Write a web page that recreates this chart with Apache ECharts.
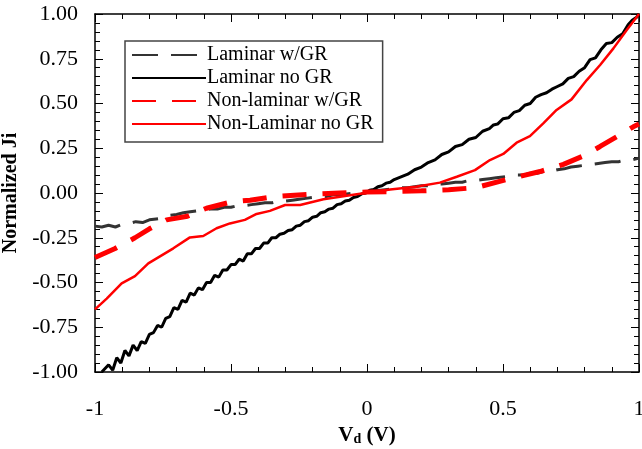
<!DOCTYPE html>
<html>
<head>
<meta charset="utf-8">
<script src="https://cdn.jsdelivr.net/npm/echarts@6/dist/echarts.min.js"></script>
<style>
  html, body { margin: 0; padding: 0; background: #fff; }
  #chart { width: 642px; height: 449px; }
</style>
</head>
<body>
<div id="chart"></div>
<script>
// series names
var names = ['Laminar w/GR', 'Laminar no GR', 'Non-laminar w/GR', 'Non-Laminar no GR'];

// [Vd, normalized J]
var laminarWithGR = [
  [-1,-0.185],[-0.975,-0.19],[-0.95,-0.18],[-0.925,-0.19],[-0.9,-0.175],[-0.875,-0.17],[-0.85,-0.16],
  [-0.825,-0.165],[-0.8,-0.15],[-0.775,-0.145],[-0.75,-0.14],[-0.725,-0.125],[-0.7,-0.12],[-0.675,-0.11],
  [-0.65,-0.105],[-0.625,-0.1],[-0.6,-0.095],[-0.575,-0.09],[-0.55,-0.09],[-0.525,-0.08],[-0.5,-0.08],
  [-0.475,-0.07],[-0.45,-0.07],[-0.425,-0.065],[-0.4,-0.06],[-0.375,-0.055],[-0.35,-0.055],[-0.325,-0.045],
  [-0.3,-0.045],[-0.275,-0.04],[-0.25,-0.035],[-0.225,-0.03],[-0.2,-0.025],[-0.175,-0.02],[-0.15,-0.02],
  [-0.125,-0.01],[-0.1,-0.01],[-0.075,-0.005],[-0.05,0.0],[-0.025,0.005],[0,0.005],[0.025,0.015],[0.05,0.015],
  [0.075,0.02],[0.1,0.025],[0.125,0.03],[0.15,0.03],[0.175,0.035],[0.2,0.04],[0.225,0.04],[0.25,0.05],
  [0.275,0.05],[0.3,0.055],[0.325,0.06],[0.35,0.06],[0.375,0.07],[0.4,0.07],[0.425,0.075],[0.45,0.08],
  [0.475,0.085],[0.5,0.09],[0.525,0.095],[0.55,0.1],[0.575,0.1],[0.6,0.11],[0.625,0.11],[0.65,0.12],
  [0.675,0.12],[0.7,0.13],[0.725,0.135],[0.75,0.145],[0.775,0.15],[0.8,0.155],[0.825,0.16],[0.85,0.165],
  [0.875,0.17],[0.9,0.175],[0.925,0.175],[0.95,0.185],[0.975,0.185],[1,0.195]
];

var laminarNoGR = [
  [-0.975,-1.00],[-0.95,-0.96],[-0.935,-0.99],[-0.92,-0.92],[-0.905,-0.95],[-0.89,-0.88],[-0.875,-0.91],
  [-0.86,-0.85],[-0.845,-0.88],[-0.83,-0.83],[-0.815,-0.84],[-0.8,-0.79],[-0.785,-0.78],[-0.77,-0.74],
  [-0.755,-0.75],[-0.74,-0.70],[-0.725,-0.69],[-0.71,-0.64],[-0.695,-0.65],[-0.68,-0.60],[-0.665,-0.61],
  [-0.65,-0.56],[-0.635,-0.57],[-0.62,-0.53],[-0.605,-0.54],[-0.59,-0.50],[-0.575,-0.50],[-0.56,-0.46],
  [-0.545,-0.47],[-0.53,-0.43],[-0.515,-0.43],[-0.5,-0.40],[-0.485,-0.40],[-0.47,-0.37],[-0.455,-0.38],
  [-0.44,-0.34],[-0.425,-0.34],[-0.41,-0.31],[-0.395,-0.31],[-0.38,-0.28],[-0.365,-0.28],[-0.35,-0.25],
  [-0.335,-0.25],[-0.32,-0.23],[-0.305,-0.225],[-0.29,-0.21],[-0.275,-0.205],[-0.26,-0.185],[-0.245,-0.18],
  [-0.23,-0.16],[-0.215,-0.155],[-0.2,-0.135],[-0.185,-0.13],[-0.17,-0.11],[-0.155,-0.105],[-0.14,-0.09],
  [-0.125,-0.085],[-0.11,-0.065],[-0.095,-0.06],[-0.08,-0.045],[-0.065,-0.04],[-0.05,-0.025],[-0.035,-0.02],
  [-0.02,-0.005],[-0.005,0.0],[0.01,0.015],[0.025,0.02],[0.04,0.035],[0.055,0.04],[0.07,0.055],[0.085,0.06],
  [0.1,0.075],[0.125,0.09],[0.15,0.105],[0.175,0.13],[0.2,0.145],[0.225,0.17],[0.25,0.185],[0.275,0.215],
  [0.3,0.23],[0.325,0.26],[0.35,0.27],[0.375,0.30],[0.4,0.31],[0.425,0.345],[0.45,0.36],[0.465,0.38],
  [0.48,0.385],[0.5,0.415],[0.52,0.42],[0.54,0.45],[0.56,0.46],[0.58,0.49],[0.6,0.50],[0.62,0.535],
  [0.64,0.55],[0.66,0.56],[0.68,0.58],[0.7,0.595],[0.72,0.61],[0.74,0.64],[0.76,0.65],[0.78,0.68],
  [0.8,0.70],[0.82,0.745],[0.84,0.755],[0.86,0.80],[0.88,0.835],[0.9,0.84],[0.92,0.87],[0.94,0.89],
  [0.96,0.94],[0.975,0.965],[0.99,0.98],[1.0,1.0]
];

var nonLaminarWithGR = [
  [-1,-0.36],[-0.926,-0.31],[-0.853,-0.25],[-0.8,-0.2],[-0.737,-0.15],[-0.66,-0.13],[-0.59,-0.085],
  [-0.5,-0.05],[-0.43,-0.04],[-0.34,-0.02],[-0.22,-0.008],[-0.1,0.0],[0.0,0.005],[0.1,0.008],[0.2,0.012],
  [0.3,0.018],[0.4,0.03],[0.513,0.075],[0.636,0.12],[0.722,0.16],[0.8,0.21],[0.857,0.26],[0.918,0.314],
  [0.979,0.37],[1,0.385]
];

var nonLaminarNoGR = [
  [-1,-0.65],[-0.957,-0.59],[-0.902,-0.505],[-0.853,-0.464],[-0.804,-0.393],[-0.712,-0.309],[-0.651,-0.248],
  [-0.602,-0.24],[-0.553,-0.197],[-0.504,-0.17],[-0.449,-0.15],[-0.406,-0.117],[-0.357,-0.10],[-0.301,-0.067],
  [-0.246,-0.067],[-0.16,-0.035],[-0.038,-0.007],[0.085,0.02],[0.18,0.035],[0.268,0.058],[0.33,0.091],
  [0.397,0.128],[0.452,0.184],[0.501,0.218],[0.55,0.281],[0.599,0.318],[0.648,0.389],[0.697,0.464],
  [0.752,0.523],[0.808,0.631],[0.857,0.715],[0.906,0.808],[0.955,0.91],[1,1.0]
];

var serif = 'Liberation Serif';

var myChart = echarts.init(document.getElementById('chart'));

// common axis look: ticks inside, minor ticks
function xAxisBase(pos, showLabel) {
  return {
    type: 'value', position: pos, min: -1, max: 1, interval: 0.5,
    axisLine: { show: true, onZero: false, lineStyle: { color: '#000', width: 1.5 } },
    axisTick: { show: true, inside: true, length: 8, lineStyle: { color: '#000', width: 1 } },
    minorTick: { show: true, splitNumber: 5, length: 5, lineStyle: { color: '#000', width: 1 } },
    splitLine: { show: false },
    axisLabel: { show: showLabel, margin: 26, color: '#000', fontFamily: serif, fontSize: 22 }
  };
}
function yAxisBase(pos, showLabel) {
  return {
    type: 'value', position: pos, min: -1, max: 1, interval: 0.25,
    axisLine: { show: true, onZero: false, lineStyle: { color: '#000', width: 1.5 } },
    axisTick: { show: true, inside: true, length: 8, lineStyle: { color: '#000', width: 1 } },
    minorTick: { show: true, splitNumber: 5, length: 5, lineStyle: { color: '#000', width: 1 } },
    splitLine: { show: false },
    axisLabel: {
      show: showLabel, margin: 17, color: '#000', fontFamily: serif, fontSize: 22,
      formatter: function (v) { return v.toFixed(2); }
    }
  };
}

var xBottom = xAxisBase('bottom', true);
xBottom.name = '{b|V}{s|d}{b| (V)}';
xBottom.nameLocation = 'middle';
xBottom.nameGap = 50;
xBottom.nameTextStyle = {
  rich: {
    b: { fontFamily: serif, fontSize: 21, fontWeight: 'bold', color: '#000' },
    s: { fontFamily: serif, fontSize: 14, fontWeight: 'bold', color: '#000', padding: [8, 0, 0, 0] }
  }
};
var xTop = xAxisBase('top', false);

var yLeft = yAxisBase('left', true);
yLeft.name = 'Normalized Ji';
yLeft.nameLocation = 'middle';
yLeft.nameGap = 67;
yLeft.nameTextStyle = { fontFamily: serif, fontSize: 20, fontWeight: 'bold', color: '#000' };
var yRight = yAxisBase('right', false);

var option = {
  animation: false,
  backgroundColor: '#fff',
  grid: { left: 95, right: 3, top: 14, bottom: 77, outerBoundsMode: 'none', containLabel: false },
  legend: {
    data: names,
    orient: 'vertical',
    left: 125,
    top: 41,
    padding: [4, 9, 8, 6],
    itemWidth: 74,
    itemHeight: 14,
    itemGap: 3,
    borderColor: '#444',
    borderWidth: 1.5,
    itemStyle: { opacity: 0 },
    textStyle: { fontFamily: serif, fontSize: 20, lineHeight: 19, color: '#000', padding: [0, 0, 0, -4] }
  },
  xAxis: [xBottom, xTop],
  yAxis: [yLeft, yRight],
  series: [
    {
      name: names[0], type: 'line', data: laminarWithGR, showSymbol: false, symbol: 'none',
      lineStyle: { color: '#333', width: 3, type: [26, 13] }, itemStyle: { color: '#333' }
    },
    {
      name: names[1], type: 'line', data: laminarNoGR, showSymbol: false, symbol: 'none',
      lineStyle: { color: '#000', width: 3 }, itemStyle: { color: '#000' }
    },
    {
      name: names[2], type: 'line', data: nonLaminarWithGR, showSymbol: false, symbol: 'none',
      lineStyle: { color: '#ff0000', width: 5, type: [24, 16] }, itemStyle: { color: '#ff0000' }
    },
    {
      name: names[3], type: 'line', data: nonLaminarNoGR, showSymbol: false, symbol: 'none',
      lineStyle: { color: '#ff0000', width: 2.5 }, itemStyle: { color: '#ff0000' }
    }
  ]
};
myChart.setOption(option);
</script>
</body>
</html>
